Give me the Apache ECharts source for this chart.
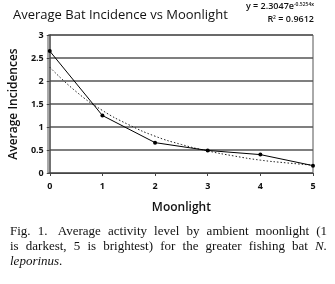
<!DOCTYPE html>
<html>
<head>
<meta charset="utf-8">
<script src="https://cdn.jsdelivr.net/npm/echarts@6/dist/echarts.min.js"></script>
<style>
  html, body { margin: 0; padding: 0; background: #fff; }
  #main { width: 335px; height: 284px; }
</style>
</head>
<body>
<div id="main"></div>
<script>
// moonlight level vs average incidences
const moonlight = [0, 1, 2, 3, 4, 5];
const incidences = [2.65, 1.25, 0.66, 0.49, 0.40, 0.16];
// dotted exponential trendline
const trendX = [0, 0.5, 1, 1.5, 2, 2.5, 3, 3.5, 4, 4.5, 5];
const trendY = [2.30, 1.77, 1.36, 1.05, 0.80, 0.62, 0.48, 0.37, 0.28, 0.22, 0.17];
// caption lines; words marked with * are italic
const captionLines = [
  ['Fig.', '1. ', 'Average', 'activity', 'level', 'by', 'ambient', 'moonlight', '(1'],
  ['is', 'darkest,', '5', 'is', 'brightest)', 'for', 'the', 'greater', 'fishing', 'bat', '*N.'],
  ['*leporinus', '.']
];

window.onload = function () {
  const chartDom = document.getElementById('main');
  const myChart = echarts.init(chartDom);
  const sans = '"Open Sans", sans-serif';
  const serif = '"Liberation Serif", serif';
  const capSize = 13;

  // justify the caption words between left and right margins
  const ctx = document.createElement('canvas').getContext('2d');
  const capLeft = 10, capRight = 327;
  const captionGraphics = [];
  captionLines.forEach((words, li) => {
    const items = words.map(w => {
      const italic = w[0] === '*';
      const t = italic ? w.slice(1) : w;
      ctx.font = (italic ? 'italic ' : '') + capSize + 'px "Liberation Serif"';
      return { t, italic, w: ctx.measureText(t).width };
    });
    const total = items.reduce((s, it) => s + it.w, 0);
    const last = li === captionLines.length - 1;
    const gap = last ? 0 : (capRight - capLeft - total) / (items.length - 1);
    let x = capLeft;
    items.forEach(it => {
      captionGraphics.push({
        type: 'text', x: x, y: 225 + li * 15,
        style: {
          text: it.t, fontFamily: serif, fontSize: capSize, fill: '#111',
          fontStyle: it.italic ? 'italic' : 'normal'
        }
      });
      x += it.w + gap;
    });
  });

  const eqRich = {
    a: { fontFamily: sans, fontSize: 9, fontWeight: 600, fill: '#111' },
    s: { fontFamily: sans, fontSize: 5, fontWeight: 600, fill: '#111', verticalAlign: 'top' }
  };

  const option = {
    animation: false,
    backgroundColor: '#fff',
    title: {
      text: 'Average Bat Incidence vs Moonlight',
      left: 8, top: 4,
      textStyle: { fontFamily: sans, fontSize: 13, fontWeight: 500, color: '#111' }
    },
    grid: { left: 48, right: 22, top: 35, bottom: 111 },
    xAxis: {
      type: 'value', min: 0, max: 5, interval: 1,
      name: 'Moonlight', nameLocation: 'middle', nameGap: 29,
      nameTextStyle: { fontFamily: sans, fontSize: 12, fontWeight: 600, color: '#111' },
      axisLine: { lineStyle: { color: '#444', width: 1 } },
      axisTick: { show: true, length: 3, lineStyle: { color: '#444' } },
      axisLabel: { fontFamily: sans, fontSize: 9, fontWeight: 700, color: '#111', margin: 9 },
      splitLine: { show: false }
    },
    yAxis: {
      type: 'value', min: 0, max: 3, interval: 0.5,
      name: 'Average Incidences', nameLocation: 'middle', nameGap: 26,
      nameTextStyle: { fontFamily: sans, fontSize: 12, fontWeight: 600, color: '#111' },
      axisLine: { show: true, lineStyle: { color: '#444', width: 1.5 } },
      axisTick: { show: true, length: 3, lineStyle: { color: '#444' } },
      axisLabel: { fontFamily: sans, fontSize: 9, fontWeight: 700, color: '#111', margin: 6 },
      splitLine: { show: true, lineStyle: { color: '#555', width: 1.5 } }
    },
    series: [
      {
        type: 'line',
        data: trendX.map((x, i) => [x, trendY[i]]),
        showSymbol: false,
        smooth: true,
        lineStyle: { color: '#222', width: 1, type: [1.5, 2] },
        z: 2
      },
      {
        type: 'line',
        data: moonlight.map((x, i) => [x, incidences[i]]),
        symbol: 'circle', symbolSize: 4,
        itemStyle: { color: '#000' },
        lineStyle: { color: '#000', width: 1 },
        z: 3
      }
    ],
    graphic: [
      {
        type: 'rect', shape: { x: 48, y: 35, width: 265, height: 138 },
        style: { fill: 'none', stroke: '#555', lineWidth: 1 }, silent: true, z: 0
      },
      {
        type: 'text', right: 21, top: 2,
        style: { text: '{a|y = 2.3047e}{s|-0.5254x}', rich: eqRich }
      },
      {
        type: 'text', right: 21, top: 15,
        style: { text: '{a|R}{s|2}{a| = 0.9612}', rich: eqRich }
      },
      ...captionGraphics
    ]
  };
  option && myChart.setOption(option);
};
</script>
</body>
</html>
